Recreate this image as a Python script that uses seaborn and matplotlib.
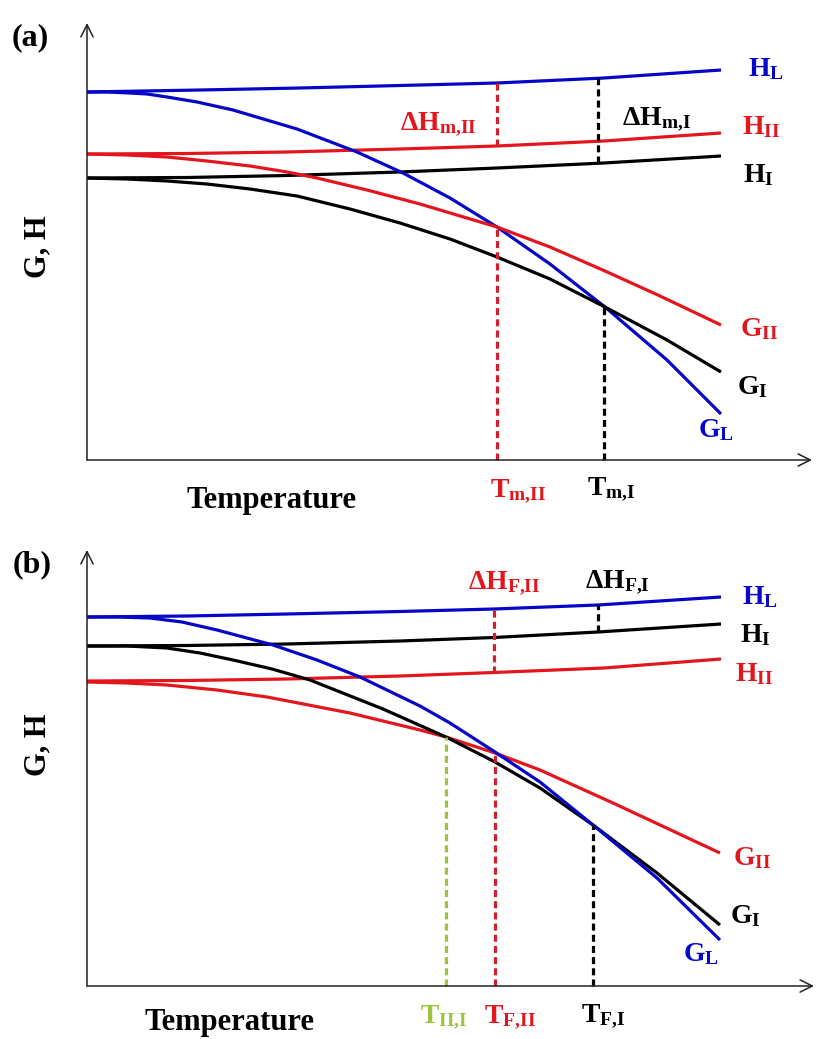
import matplotlib
matplotlib.use("Agg")
import matplotlib.pyplot as plt
import seaborn as sns
import pandas as pd

# ---------------- data (T = temperature, G = free energy / enthalpy, arbitrary units) ----------------
# Panel (a)
a_HL_T = [0, 113, 213, 333, 410, 517, 634]
a_HL_G = [368, 370, 372, 375, 377, 382, 390]
a_HII_T = [0, 100, 200, 313, 410, 517, 634]
a_HII_G = [306, 306.5, 308, 311, 314, 319, 327]
a_HI_T = [0, 100, 200, 313, 410, 517, 634]
a_HI_G = [282, 282.5, 284.5, 288, 292, 297, 304]
a_GL_T = [0, 20, 43, 60, 80, 110, 146, 210, 270, 316, 363, 410, 463, 518, 580, 634]
a_GL_G = [368, 368, 367, 366, 363, 358, 350, 331, 308, 287, 262, 233, 196, 153, 100, 46]
a_GII_T = [0, 40, 80, 120, 163, 200, 230, 280, 333, 410, 463, 518, 573, 634]
a_GII_G = [306, 305, 303, 299, 294, 288, 282, 270, 256, 233, 213, 189, 164, 135]
a_GI_T = [0, 40, 80, 120, 163, 210, 263, 313, 363, 410, 463, 518, 580, 634]
a_GI_G = [282, 281, 279, 276, 271, 264, 251, 237, 221, 203, 181, 153, 120, 88]
a_Tm_II = 410
a_Tm_I = 517
a_dH_II = (410, 377, 314)   # T, H_L, H_II
a_dH_I = (511, 382, 297)    # T, H_L, H_I

# Panel (b)
b_HL_T = [0, 100, 200, 313, 407, 511, 634]
b_HL_G = [369, 370, 372, 374.5, 377, 381, 389]
b_HI_T = [0, 100, 200, 313, 407, 511, 634]
b_HI_G = [340, 340.5, 342, 345, 348.5, 354, 362]
b_HII_T = [0, 100, 200, 313, 407, 517, 634]
b_HII_G = [305, 305.5, 307, 310, 313.5, 318, 327]
b_GL_T = [0, 30, 63, 95, 130, 186, 230, 273, 333, 363, 408, 453, 506, 570, 633]
b_GL_G = [369, 369, 368, 364, 356, 341, 326, 309, 280, 263, 234, 204, 161, 108, 46]
b_GI_T = [0, 40, 80, 113, 146, 185, 223, 296, 359, 408, 453, 506, 570, 633]
b_GI_G = [340, 340, 338, 333, 326, 317, 306, 277, 249, 224, 198, 161, 113, 61]
b_GII_T = [0, 40, 80, 130, 180, 263, 333, 359, 408, 453, 526, 633]
b_GII_G = [304, 303, 301, 296, 289, 273, 256, 249, 233, 216, 183, 133]
b_TII_I = (359, 249)
b_TF_II = (408, 233)
b_TF_I = (506, 161)
b_dH_II = (407, 377, 313.5)   # T, H_L, H_II
b_dH_I = (511, 381, 354)      # T, H_L, H_I

# ---------------- style ----------------
sns.set_theme(style="white")
plt.rcParams["font.family"] = ["Liberation Serif", "DejaVu Serif"]
plt.rcParams["mathtext.fontset"] = "custom"
plt.rcParams["mathtext.rm"] = "Liberation Serif"
plt.rcParams["mathtext.bf"] = "Liberation Serif:bold"
plt.rcParams["mathtext.it"] = "Liberation Serif:italic"

BLUE = "#0606c8"
RED = "#e3161e"
DRED = "#d02030"
BLACK = "#000000"
GREEN = "#9cc43c"
LW = 2.3
DASH = (0, (2.2, 1.3))

fig = plt.figure(figsize=(8.23, 10.39), dpi=100)
ax_a = fig.add_axes([0, 1 - 520 / 1039, 1, 520 / 1039])
ax_b = fig.add_axes([0, 0, 1, 519 / 1039])
ax_a.set_xlim(-87, 736)
ax_a.set_ylim(-60, 460)
ax_b.set_xlim(-87, 736)
ax_b.set_ylim(-53, 466)


def curve(ax, T, G, color):
    df = pd.DataFrame({"T": T, "G": G})
    sns.lineplot(data=df, x="T", y="G", ax=ax, color=color, lw=LW,
                 sort=False, estimator=None, solid_capstyle="butt",
                 solid_joinstyle="round")


def axes_arrows(ax, ytip, xtip):
    kw = dict(arrowstyle="->", lw=1.1, color="#222222", mutation_scale=22,
              shrinkA=0, shrinkB=0)
    ax.annotate("", xy=(0, ytip), xytext=(0, 0), arrowprops=kw)
    ax.annotate("", xy=(xtip, 0), xytext=(0, 0), arrowprops=kw)


def lab(ax, T, G, s, color, size=20, ha="left"):
    ax.text(T, G, s, color=color, fontsize=size, ha=ha, va="baseline",
            fontweight="bold")


# ---------------- panel (a) ----------------
ax = ax_a
axes_arrows(ax, 437, 725)
curve(ax, a_HL_T, a_HL_G, BLUE)
curve(ax, a_HII_T, a_HII_G, RED)
curve(ax, a_HI_T, a_HI_G, BLACK)
curve(ax, a_GL_T, a_GL_G, BLUE)
curve(ax, a_GII_T, a_GII_G, RED)
curve(ax, a_GI_T, a_GI_G, BLACK)
ax.vlines(a_dH_II[0], a_dH_II[2], a_dH_II[1], color=DRED, lw=LW, linestyles=[DASH])
ax.vlines(a_dH_I[0], a_dH_I[2], a_dH_I[1], color=BLACK, lw=LW, linestyles=[DASH])
ax.vlines(a_Tm_II, 0, 233, color=DRED, lw=LW, linestyles=[DASH])
ax.vlines(a_Tm_I, 0, 153, color=BLACK, lw=LW, linestyles=[DASH])

lab(ax, -75, 415, "(a)", BLACK, size=23)
ax.text(-49, 213, "G, H", rotation=90, fontsize=22, fontweight="bold",
        ha="center", va="center", color=BLACK)
ax.text(185, -48, "Temperature", fontsize=22, fontweight="bold", ha="center",
        va="baseline", color=BLACK)
lab(ax, 661, 384, r"$\mathbf{H_{L}}$", BLUE)
lab(ax, 655, 326, r"$\mathbf{H_{II}}$", RED)
lab(ax, 656, 278, r"$\mathbf{H_{I}}$", BLACK)
lab(ax, 313, 331, r"$\mathbf{\Delta H_{m{,}II}}$", RED)
lab(ax, 535, 336, r"$\mathbf{\Delta H_{m{,}I}}$", BLACK)
lab(ax, 653, 124, r"$\mathbf{G_{II}}$", RED)
lab(ax, 650, 66, r"$\mathbf{G_{I}}$", BLACK)
lab(ax, 611, 23, r"$\mathbf{G_{L}}$", BLUE)
lab(ax, 403, -36, r"$\mathbf{T_{m{,}II}}$", RED)
lab(ax, 500, -34, r"$\mathbf{T_{m{,}I}}$", BLACK)

# ---------------- panel (b) ----------------
ax = ax_b
axes_arrows(ax, 436, 727)
curve(ax, b_HL_T, b_HL_G, BLUE)
curve(ax, b_HI_T, b_HI_G, BLACK)
curve(ax, b_HII_T, b_HII_G, RED)
curve(ax, b_GII_T, b_GII_G, RED)
curve(ax, b_GI_T, b_GI_G, BLACK)
curve(ax, b_GL_T, b_GL_G, BLUE)
ax.vlines(b_dH_II[0], b_dH_II[2], b_dH_II[1], color=DRED, lw=LW, linestyles=[DASH])
ax.vlines(b_dH_I[0], b_dH_I[2], b_dH_I[1], color=BLACK, lw=LW, linestyles=[DASH])
ax.vlines(b_TII_I[0], 0, b_TII_I[1], color=GREEN, lw=LW, linestyles=[DASH])
ax.vlines(b_TF_II[0], 0, b_TF_II[1], color=DRED, lw=LW, linestyles=[DASH])
ax.vlines(b_TF_I[0], 0, b_TF_I[1], color=BLACK, lw=LW, linestyles=[DASH])

lab(ax, -74, 414, "(b)", BLACK, size=23)
ax.text(-49, 241, "G, H", rotation=90, fontsize=22, fontweight="bold",
        ha="center", va="center", color=BLACK)
ax.text(143, -44, "Temperature", fontsize=22, fontweight="bold", ha="center",
        va="baseline", color=BLACK)
lab(ax, 381, 398, r"$\mathbf{\Delta H_{F{,}II}}$", RED)
lab(ax, 498, 399, r"$\mathbf{\Delta H_{F{,}I}}$", BLACK)
lab(ax, 655, 382, r"$\mathbf{H_{L}}$", BLUE)
lab(ax, 653, 344, r"$\mathbf{H_{I}}$", BLACK)
lab(ax, 648, 305, r"$\mathbf{H_{II}}$", RED)
lab(ax, 646, 121, r"$\mathbf{G_{II}}$", RED)
lab(ax, 643, 63, r"$\mathbf{G_{I}}$", BLACK)
lab(ax, 596, 25, r"$\mathbf{G_{L}}$", BLUE)
lab(ax, 333, -36, r"$\mathbf{T_{II{,}I}}$", GREEN)
lab(ax, 397, -36, r"$\mathbf{T_{F{,}II}}$", RED)
lab(ax, 494, -35, r"$\mathbf{T_{F{,}I}}$", BLACK)

for a in (ax_a, ax_b):
    a.set_axis_off()

fig.savefig("out.png", dpi=100, facecolor="white")
